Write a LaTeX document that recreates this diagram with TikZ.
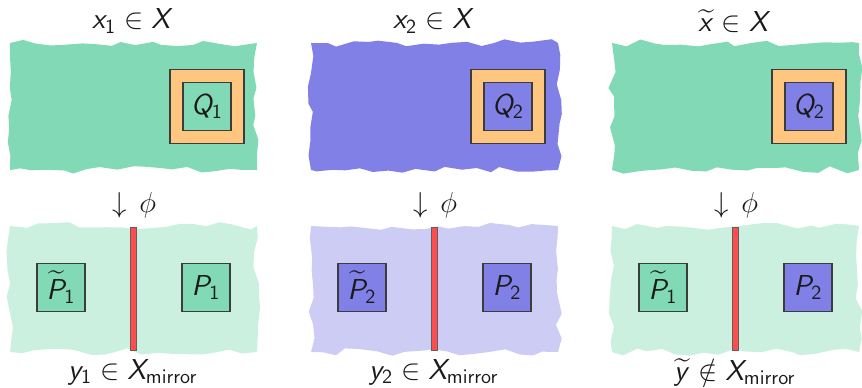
\documentclass[tikz,border=0pt]{standalone}
\usepackage{amsmath,amssymb}
\usepackage{xcolor}
\usepackage{tikz}
\usetikzlibrary{decorations.pathmorphing}
% sans serif math letters and digits
\DeclareSymbolFont{operators}{OT1}{cmss}{m}{n}
\DeclareSymbolFont{sfit}{OT1}{cmss}{m}{sl}
\DeclareMathSymbol{x}{\mathalpha}{sfit}{`x}
\DeclareMathSymbol{y}{\mathalpha}{sfit}{`y}
\DeclareMathSymbol{X}{\mathalpha}{sfit}{`X}
\DeclareMathSymbol{P}{\mathalpha}{sfit}{`P}
\DeclareMathSymbol{Q}{\mathalpha}{sfit}{`Q}
\definecolor{mint}{RGB}{130,217,181}
\definecolor{mintlt}{RGB}{204,240,224}
\definecolor{violet}{RGB}{128,128,230}
\definecolor{violetlt}{RGB}{204,204,245}
\definecolor{amber}{RGB}{255,198,128}
\definecolor{wall}{RGB}{255,77,77}
\definecolor{ink}{HTML}{1A1A1A}

\begin{document}
\begin{tikzpicture}[x=0.5pt,y=-0.5pt,
  every node/.style={font=\Large,text=ink},
  torn/.style={decorate,decoration={random steps,segment length=7pt,amplitude=1.9pt}},
  frame/.style={draw=ink!85,line width=0.6pt,inner sep=0pt,minimum size=37pt},
  patch/.style={draw=ink!85,line width=0.6pt,inner sep=0pt,minimum size=24pt}]
  \useasboundingbox (0,0) rectangle (862,387);
  \pgfmathsetseed{4}
  \foreach \bx/\cA/\cB/\cQ/\cL/\cR/\lx/\lq/\lp/\lr/\ly [count=\k] in {
    10/mint/mintlt/mint/mint/mint/{$x_1 \in X$}/{$Q_1$}/{$\widetilde{P}_1$}/{$P_1$}/{$y_1 \in X_{\mathsf{mirror}}$},
    311/violet/violetlt/violet/violet/violet/{$x_2 \in X$}/{$Q_2$}/{$\widetilde{P}_2$}/{$P_2$}/{$y_2 \in X_{\mathsf{mirror}}$},
    612/mint/mintlt/violet/mint/violet/{$\widetilde{x} \in X$}/{$Q_2$}/{$\widetilde{P}_1$}/{$P_2$}/{$\widetilde{y} \notin X_{\mathsf{mirror}}$}}{
    % source sample (top) and its image (bottom)
    \fill[\cA,torn] (\bx,43) -- (\bx+247,43) -- (\bx+247,170) -- (\bx,170) -- cycle;
    \fill[\cB,torn] (\bx,226) -- (\bx+247,226) -- (\bx+247,352) -- (\bx,352) -- cycle;
    \node (xlab\k) at (\bx+123,21) {\lx};
    \node[frame,fill=amber] (qout\k) at (\bx+197,106.5) {};
    \node[patch,fill=\cQ] (q\k) at (qout\k) {\lq};
    \node (map\k) at (\bx+124,205) {$\downarrow\,\phi$};
    \node[draw=ink!70,fill=wall,line width=0.5pt,inner sep=0pt,
      minimum width=3pt,minimum height=61.5pt] (cut\k) at (\bx+123,288.5) {};
    \node[patch,fill=\cL] (pl\k) at (\bx+51,287.5) {\lp};
    \node[patch,fill=\cR] (pr\k) at (\bx+196,287.5) {\lr};
    \node (ylab\k) at (\bx+123,372) {\ly};
  }
\end{tikzpicture}
\end{document}
